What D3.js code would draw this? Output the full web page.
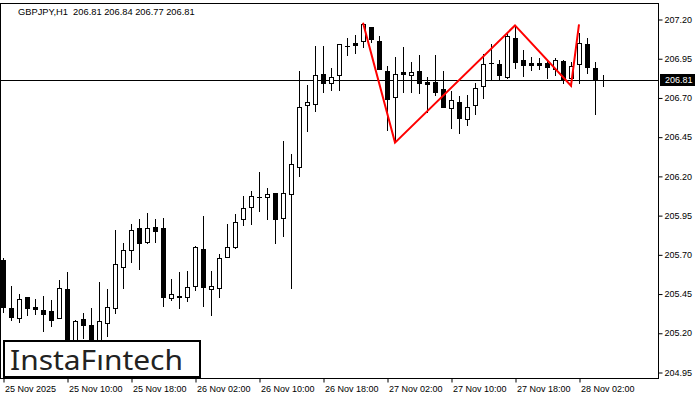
<!DOCTYPE html>
<html><head><meta charset="utf-8">
<script src="https://cdn.jsdelivr.net/npm/d3@7"></script>
<style>
html,body{margin:0;padding:0;background:#fff;}
svg{display:block;}
</style></head>
<body>
<svg id="chart" width="700" height="400"></svg>
<script>
// ---- data ----
const timeLabels = ["25 Nov 2025","25 Nov 10:00","25 Nov 18:00","26 Nov 02:00","26 Nov 10:00","26 Nov 18:00","27 Nov 02:00","27 Nov 10:00","27 Nov 18:00","28 Nov 02:00"];
const timeTickIdx = [0,8,16,24,32,40,48,56,64,72];
const priceTicks = [207.20,206.95,206.70,206.45,206.20,205.95,205.70,205.45,205.20,204.95];
const open = [205.664,205.358,205.294,205.428,205.364,205.345,205.339,205.294,205.479,205.103,
205.288,205.250,205.141,205.262,205.358,205.619,205.728,205.868,205.779,205.874,
205.868,205.422,205.435,205.428,205.498,205.734,205.479,205.486,205.683,205.747,
205.925,206.002,206.066,206.066,206.091,205.932,206.085,206.257,206.652,206.658,
206.849,206.792,206.843,207.028,207.047,207.060,207.149,207.060,206.869,206.703,
206.862,206.843,206.869,206.798,206.798,206.754,206.633,206.671,206.563,206.652,
206.773,206.920,206.913,206.830,207.079,206.939,206.920,206.920,206.920,206.881,
206.932,206.824,206.913,207.041,206.888,206.81];
const high = [205.677,205.498,205.447,205.428,205.415,205.435,205.409,205.537,205.588,205.282,
205.326,205.358,205.524,205.479,205.855,205.772,205.893,205.925,205.964,205.925,
205.932,205.543,205.588,205.594,205.753,205.944,205.594,205.702,205.893,205.957,
206.072,206.104,206.225,206.123,206.091,206.422,206.340,206.869,206.779,207.028,
207.028,206.888,207.041,207.079,207.098,207.175,207.149,207.092,206.900,206.958,
207.022,206.926,206.971,206.830,206.971,206.869,206.741,206.709,206.716,206.792,
206.977,207.041,206.939,207.111,207.149,207.002,206.958,206.951,206.939,206.951,
206.939,206.926,207.111,207.079,206.926,206.84];
const low = [205.333,205.282,205.269,205.313,205.320,205.211,205.243,205.294,205.052,205.071,
205.167,205.090,205.116,205.180,205.326,205.486,205.651,205.607,205.772,205.779,
205.371,205.409,205.358,205.403,205.473,205.371,205.313,205.428,205.683,205.740,
205.887,205.893,205.976,205.925,205.772,205.817,205.486,206.199,206.486,206.614,
206.735,206.747,206.747,206.971,206.983,207.022,207.053,206.881,206.493,206.416,
206.735,206.735,206.728,206.607,206.716,206.639,206.505,206.473,206.524,206.595,
206.697,206.811,206.811,206.824,206.888,206.837,206.875,206.881,206.824,206.843,
206.792,206.773,206.792,206.856,206.595,206.77];
const close = [205.364,205.301,205.415,205.358,205.352,205.320,205.282,205.486,205.090,205.275,
205.250,205.122,205.275,205.364,205.638,205.728,205.855,205.772,205.868,205.849,
205.428,205.447,205.428,205.492,205.747,205.492,205.498,205.677,205.747,205.906,
205.995,206.072,206.066,206.085,205.925,206.091,206.276,206.639,206.671,206.843,
206.792,206.830,207.041,207.028,207.034,207.168,207.073,206.881,206.690,206.849,
206.849,206.862,206.792,206.786,206.735,206.639,206.684,206.569,206.639,206.760,
206.913,206.920,206.843,207.092,206.926,206.907,206.907,206.907,206.894,206.939,
206.811,206.900,207.047,206.894,206.811,206.81];
const patternIdx = [45,49,64,71,72];
const patternPrice = [207.176,206.412,207.159,206.775,207.166];
const symbol = "GBPJPY,H1";
const lastPrice = 206.81;

// ---- layout ----
const svg = d3.select("#chart");
const plotL = 0, plotR = 659, plotT = 3, plotB = 379;
const x = d3.scaleLinear().domain([0, 75]).range([3, 603]);
const y = d3.scaleLinear().domain([204.95, 207.20]).range([372, 19]);
const font = "'Liberation Sans', Arial, sans-serif";

svg.append("rect").attr("width",700).attr("height",400).attr("fill","#fff");

svg.append("defs").append("clipPath").attr("id","clip")
  .append("rect").attr("x",plotL).attr("y",plotT).attr("width",plotR-plotL).attr("height",plotB-plotT);

const g = svg.append("g").attr("clip-path","url(#clip)");

// current price line
g.append("line").attr("x1",plotL).attr("x2",plotR)
  .attr("y1",Math.round(y(lastPrice))+0.5).attr("y2",Math.round(y(lastPrice))+0.5)
  .attr("stroke","#000").attr("stroke-width",1);

// candles
const idx = d3.range(open.length);
const cx = i => Math.round(x(i));
const cy = v => Math.round(y(v));
const cg = g.append("g");
idx.forEach(i => {
  const o = open[i], c = close[i], h = high[i], l = low[i];
  const xc = cx(i);
  cg.append("line").attr("x1",xc+0.5).attr("x2",xc+0.5)
    .attr("y1",cy(h)).attr("y2",cy(l)+1).attr("stroke","#000").attr("stroke-width",1);
  const top = Math.min(cy(o),cy(c)), bot = Math.max(cy(o),cy(c));
  if (bot - top < 1) {
    cg.append("line").attr("x1",xc-2).attr("x2",xc+3)
      .attr("y1",top+0.5).attr("y2",top+0.5).attr("stroke","#000").attr("stroke-width",1);
  } else {
    cg.append("rect").attr("x",xc-1.5).attr("y",top+0.5)
      .attr("width",4).attr("height",bot-top)
      .attr("fill", c >= o ? "#fff" : "#000").attr("stroke","#000").attr("stroke-width",1);
  }
});

// pattern line
const line = d3.line().x(d => x(d[0])).y(d => y(d[1]));
g.append("path").datum(patternIdx.map((v,k)=>[v,patternPrice[k]]))
  .attr("d",line).attr("fill","none").attr("stroke","#ff0000").attr("stroke-width",2)
  .attr("stroke-linejoin","miter");

// frame
svg.append("rect").attr("x",plotL+0.5).attr("y",plotT+0.5)
  .attr("width",plotR-plotL-1).attr("height",plotB-plotT-1)
  .attr("fill","none").attr("stroke","#000").attr("stroke-width",1);

// right axis
const ya = d3.axisRight(y).tickValues(priceTicks).tickFormat(d3.format(".2f")).tickSize(4).tickPadding(2);
const yaG = svg.append("g").attr("transform",`translate(${plotR-0.5},0.5)`).call(ya);
yaG.select(".domain").remove();
yaG.selectAll("text").attr("font-family",font).attr("font-size","9px").attr("fill","#000").attr("dy","0.3em");
yaG.selectAll("line").attr("stroke","#000");

// bottom axis
const xa = d3.axisBottom(x).tickValues(timeTickIdx).tickFormat((d,k)=>timeLabels[k]).tickSize(4).tickPadding(3);
const xaG = svg.append("g").attr("transform",`translate(0.5,${plotB-0.5})`).call(xa);
xaG.select(".domain").remove();
xaG.selectAll("text").attr("font-family",font).attr("font-size","9px").attr("fill","#000")
  .attr("text-anchor","start").attr("x",1);
xaG.selectAll("line").attr("stroke","#000");

// last price label
const ly = Math.round(y(lastPrice));
svg.append("rect").attr("x",660).attr("y",ly-6).attr("width",35).attr("height",12).attr("fill","#000");
svg.append("text").attr("x",665).attr("y",ly).attr("dy","0.34em")
  .attr("font-family",font).attr("font-size","9px").attr("fill","#fff").text(d3.format(".2f")(lastPrice));

// header
svg.append("text").attr("x",18).attr("y",15).attr("font-family",font).attr("font-size","9.3px").attr("fill","#000")
  .attr("xml:space","preserve")
  .text(`${symbol}  ${open[75].toFixed(2)} ${high[75].toFixed(2)} ${low[75].toFixed(2)} ${close[75].toFixed(2)}`);

// logo
svg.append("rect").attr("x",4).attr("y",341).attr("width",196).attr("height",36)
  .attr("fill","#fff").attr("stroke","#000").attr("stroke-width",2);
svg.append("text").attr("x",10).attr("y",370).attr("font-family","'Noto Sans', sans-serif")
  .attr("font-size","28px").attr("fill","#222").attr("textLength",173).attr("lengthAdjust","spacingAndGlyphs")
  .text("InstaFıntech");
</script>
</body></html>
